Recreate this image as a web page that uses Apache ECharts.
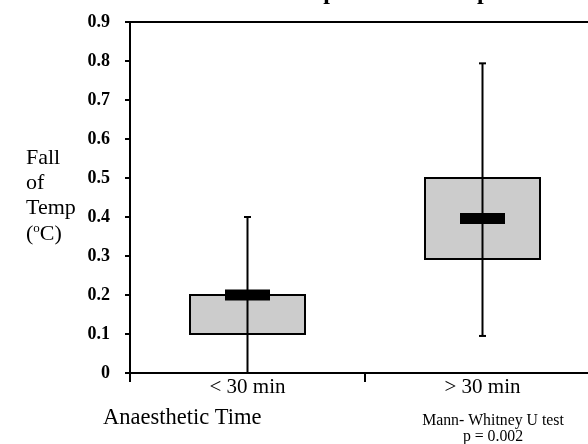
<!DOCTYPE html>
<html><head><meta charset="utf-8">
<script src="https://cdn.jsdelivr.net/npm/echarts@6/dist/echarts.min.js"></script>
<style>html,body{margin:0;padding:0;background:#fff}#c{width:588px;height:444px}</style>
</head><body><div id="c"></div>
<script>
const categories = ['< 30 min', '> 30 min'];
const whiskerMin = [0, 0.095];
const q1 = [0.1, 0.292];
const median = [0.2, 0.396];
const q3 = [0.2, 0.5];
const whiskerMax = [0.4, 0.794];
const yTicks = [0, 0.1, 0.2, 0.3, 0.4, 0.5, 0.6, 0.7, 0.8, 0.9];

const data = categories.map((c, i) => [i, whiskerMin[i], q1[i], median[i], q3[i], whiskerMax[i]]);
const serif = 'Liberation Serif';

const chart = echarts.init(document.getElementById('c'));
chart.setOption({
  animation: false,
  title: {
    text: 'Comparison of Temperature Fall',
    left: 269, top: -24,
    textStyle: { fontFamily: serif, fontWeight: 'bold', fontSize: 24, color: '#000' }
  },
  grid: { left: 130, top: 22, height: 351, width: 470, outerBoundsMode: 'none', containLabel: false },
  xAxis: [{
    type: 'category', data: categories, position: 'bottom',
    axisLine: { lineStyle: { color: '#000', width: 2 } },
    axisTick: { show: true, length: 9, inside: false, lineStyle: { color: '#000', width: 2 } },
    axisLabel: { color: '#000', fontFamily: serif, fontSize: 21, margin: 4 }
  }, {
    type: 'category', data: categories, position: 'top',
    axisLine: { lineStyle: { color: '#000', width: 2 } },
    axisTick: { show: false }, axisLabel: { show: false }
  }],
  yAxis: {
    type: 'value', min: 0, max: 0.9, interval: 0.1,
    axisLine: { show: true, lineStyle: { color: '#000', width: 2 } },
    axisTick: { show: true, length: 5, lineStyle: { color: '#000', width: 2 } },
    splitLine: { show: false },
    axisLabel: {
      color: '#000', fontFamily: serif, fontWeight: 'bold', fontSize: 18, margin: 20,
      formatter: v => { const t = yTicks.find(x => Math.abs(x - v) < 1e-9); return t === 0 ? '0' : String(t); }
    }
  },
  series: [{
    type: 'custom',
    data: data,
    renderItem: function (params, api) {
      const x = api.coord([api.value(0), 0])[0];
      const yMin = api.coord([api.value(0), api.value(1)])[1];
      const yQ1 = api.coord([api.value(0), api.value(2)])[1];
      const yMed = api.coord([api.value(0), api.value(3)])[1];
      const yQ3 = api.coord([api.value(0), api.value(4)])[1];
      const yMax = api.coord([api.value(0), api.value(5)])[1];
      const bw = 115, mw = 45, mh = 11, cw = 7;
      const line = { stroke: '#000', lineWidth: 2 };
      return {
        type: 'group',
        children: [
          { type: 'rect', shape: { x: x - bw / 2, y: yQ3, width: bw, height: yQ1 - yQ3 },
            style: { fill: '#cccccc', stroke: '#000', lineWidth: 2 } },
          { type: 'line', shape: { x1: x, y1: yMin, x2: x, y2: yMax }, style: line },
          { type: 'line', shape: { x1: x - cw / 2, y1: yMin, x2: x + cw / 2, y2: yMin }, style: line },
          { type: 'line', shape: { x1: x - cw / 2, y1: yMax, x2: x + cw / 2, y2: yMax }, style: line },
          { type: 'rect', shape: { x: x - mw / 2, y: yMed - mh / 2, width: mw, height: mh },
            style: { fill: '#000' } }
        ]
      };
    }
  }],
  graphic: [
    { type: 'text', left: 26, top: 146,
      style: { text: 'Fall\nof\nTemp', fontFamily: serif, fontSize: 22, lineHeight: 25, fill: '#000' } },
    { type: 'text', left: 26, top: 222,
      style: { text: '({s|o}C)', fontFamily: serif, fontSize: 22, lineHeight: 25, fill: '#000',
        rich: { s: { fontFamily: serif, fontSize: 13, verticalAlign: 'top', lineHeight: 25, padding: [0, 0, 10, 0] } } } },
    { type: 'text', left: 103, top: 407,
      style: { text: 'Anaesthetic Time', fontFamily: serif, fontSize: 22.5, fill: '#000' } },
    { type: 'text', x: 493, y: 413,
      style: { text: 'Mann- Whitney U test\np = 0.002', fontFamily: serif, fontSize: 15.8, lineHeight: 16, fill: '#000', align: 'center' } }
  ]
});
</script></body></html>
